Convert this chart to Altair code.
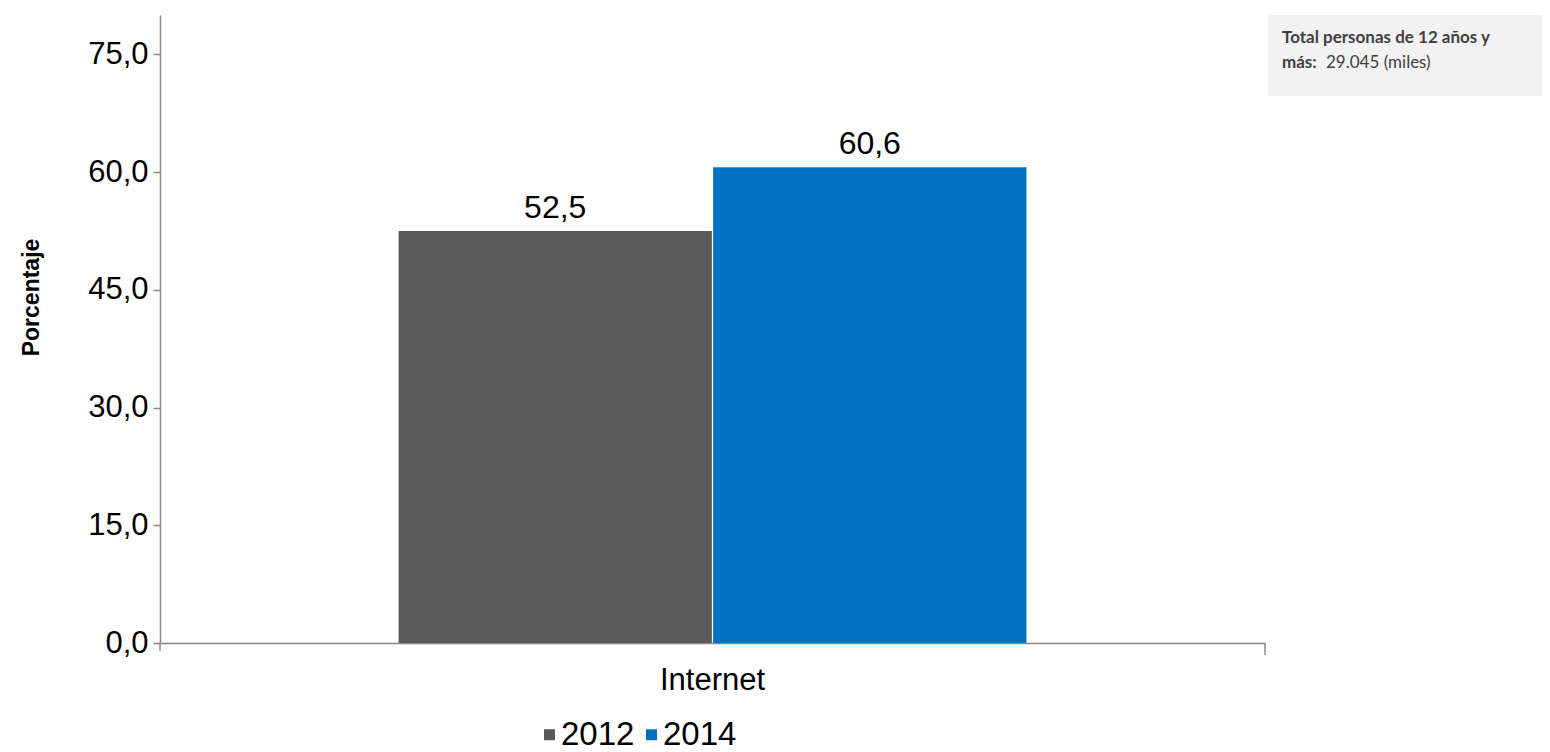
import altair as alt
import pandas as pd

categories = ["Internet", "Internet"]
years = ["2012", "2014"]
values = [52.5, 60.6]
colors = ["#595959", "#0070C0"]
y_ticks = [0, 15, 30, 45, 60, 75]

df = pd.DataFrame({"cat": categories, "year": years, "value": values})

W, H = 1105, 628
FONT = "Liberation Sans"
AXC = "#898989"

base = alt.Chart(df).encode(
    x=alt.X("cat:N", title=None,
            scale=alt.Scale(paddingInner=0, paddingOuter=0.38),
            axis=alt.Axis(labelAngle=0, labelPadding=22, ticks=False, grid=False)),
    xOffset=alt.XOffset("year:N", scale=alt.Scale(paddingInner=0.004, paddingOuter=0)),
)

bars = base.mark_bar().encode(
    y=alt.Y("value:Q", title="Porcentaje",
            scale=alt.Scale(domain=[0, 80], nice=False),
            axis=alt.Axis(values=y_ticks, labelExpr="replace(format(datum.value, '.1f'), '.', ',')",
                          labelPadding=5, titleFont=FONT, titleFontSize=23, titleFontWeight="bold",
                          titleColor="#000000", titlePadding=44, titleY=282,
                          tickSize=7, tickWidth=1.5, tickColor=AXC, grid=False)),
    color=alt.Color("year:N", scale=alt.Scale(domain=years, range=colors),
                    legend=alt.Legend(title=None, orient="none", legendX=373, legendY=703,
                                      direction="horizontal", symbolType="square", symbolSize=121,
                                      labelFont=FONT, labelFontSize=33, labelColor="#000000",
                                      columnPadding=0, labelOffset={"expr": "-5"},
                                      symbolStrokeWidth=0)),
)

labels = base.mark_text(dy=-23, font=FONT, fontSize=32, color="#000000").transform_calculate(
    lab="replace(format(datum.value, '.1f'), '.', ',')"
).encode(y=alt.Y("value:Q"), text="lab:N")

edge_ticks = alt.Chart(pd.DataFrame({"a": [0]})).mark_rule(color=AXC, strokeWidth=1.5).encode(
    x=alt.value(0), y=alt.value(H), y2=alt.value(H + 8))
edge_ticks2 = alt.Chart(pd.DataFrame({"a": [0]})).mark_rule(color=AXC, strokeWidth=1.5).encode(
    x=alt.value(W), y=alt.value(H), y2=alt.value(H + 12))

box = alt.Chart(pd.DataFrame({"a": [0]})).mark_rect(color="#F2F2F2").encode(
    x=alt.value(1108), x2=alt.value(1395), y=alt.value(0), y2=alt.value(81))

ANN_FONT = "Lato"
t1 = alt.Chart(pd.DataFrame({"t": ["Total personas de 12 años y"]})).mark_text(
    align="left", baseline="middle", font=ANN_FONT, fontSize=17, fontWeight="bold", color="#404040"
).encode(x=alt.value(1122), y=alt.value(23), text="t:N")

t2 = alt.Chart(pd.DataFrame({"t": ["más:"]})).mark_text(
    align="left", baseline="middle", font=ANN_FONT, fontSize=17, fontWeight="bold", color="#404040"
).encode(x=alt.value(1122), y=alt.value(48), text="t:N")

t3 = alt.Chart(pd.DataFrame({"t": ["29.045 (miles)"]})).mark_text(
    align="left", baseline="middle", font=ANN_FONT, fontSize=17, color="#404040"
).encode(x=alt.value(1166), y=alt.value(48), text="t:N")

chart = alt.layer(box, edge_ticks, edge_ticks2, bars, labels, t1, t2, t3).properties(
    width=W, height=H,
    autosize=alt.AutoSizeParams(type="none"),
    padding={"left": 152, "top": 7, "right": 277, "bottom": 109},
).configure_view(stroke=None).configure_axis(
    labelFont=FONT, labelFontSize=31, labelColor="#000000",
    domainColor=AXC, domainWidth=1.5,
)

chart.save("out.html", embed_options={"renderer": "svg", "actions": False})
